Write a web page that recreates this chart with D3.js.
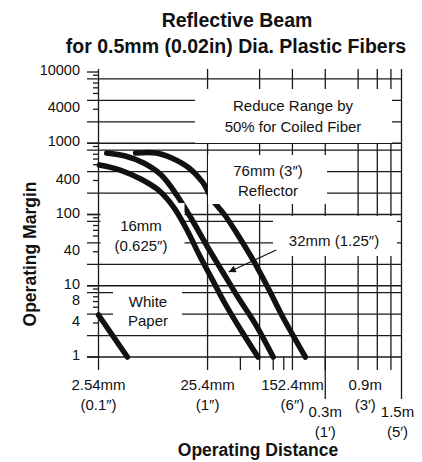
<!DOCTYPE html>
<html><head><meta charset="utf-8">
<script src="https://cdn.jsdelivr.net/npm/d3@7"></script>
<style>
body{margin:0;background:#fff}
text{font-family:"Liberation Sans",Arial,Helvetica,sans-serif;fill:#111}
</style>
</head><body>
<svg id="c" width="422" height="462"></svg>
<script>
// ---------- data (x = operating distance in inches, y = operating margin) ----------
const x16 = [0.102, 0.158, 0.244, 0.353, 0.488, 0.648, 0.840, 1.112, 1.437, 2.02, 2.90];
const y16 = [495, 421, 315, 221, 127, 60.6, 27.0, 12.0, 5.73, 2.39, 1];
const x32 = [0.119, 0.176, 0.260, 0.376, 0.521, 0.722, 1.0, 1.377, 1.896, 2.78, 4.0];
const y32 = [730, 662, 528, 358, 188, 83.7, 35.0, 15.6, 6.95, 2.81, 1];
const x76 = [0.219, 0.338, 0.468, 0.677, 0.897, 1.112, 1.437, 1.896, 2.61, 3.59, 4.95, 7.89];
const y76 = [730, 730, 621, 449, 286, 160, 98.4, 51.6, 23.0, 9.30, 3.53, 1];
const xPaper = [0.1, 0.184];
const yPaper = [3.89, 1];

const yGridValues = [1,2,4,8,10,20,40,80,100,200,400,800,1000,2000,4000,8000];
const yMajorTicks = [1,10,100,1000,10000];
const yMinorTicks = [3,5,6,7,9,30,50,60,70,90,300,500,600,700,900,3000,5000,6000,7000,9000];
const yTickLabels = [1,4,8,10,40,100,400,1000,4000,10000];

const xGridValues = [1,3,6,12,24,36,48];
const xShortTicks = [2,4,5];
const xTickValues = [0.1, 1, 6, 12, 36, 60];
const xTickMetric = ["2.54mm","25.4mm","152.4mm","0.3m","0.9m","1.5m"];
const xTickImperial = ["(0.1\u2033)","(1\u2033)","(6\u2033)","(1\u2032)","(3\u2032)","(5\u2032)"];
const xTickRow = [0,0,0,1,0,1];

const arrowFrom = [4.26, 31.8];
const arrowTo = [1.565, 15.6];

// ---------- scales ----------
const svg = d3.select("#c");
const x = d3.scaleLog().domain([0.1, 60]).range([98.5, 401.5]);
const y = d3.scaleLog().domain([1, 10000]).range([357, 72]);
const LEFT = 87, TOP = 69;
const ink = "#1a1a1a";

// ---------- grid ----------
const g = svg.append("g").attr("stroke", ink).attr("stroke-width", 1.3);
g.selectAll(".hg").data(yGridValues).join("line")
  .attr("x1", LEFT).attr("x2", x(60)).attr("y1", d => y(d)).attr("y2", d => y(d));
g.selectAll(".mj").data(yMajorTicks).join("line")
  .attr("x1", LEFT).attr("x2", x(0.1)).attr("y1", d => y(d)).attr("y2", d => y(d));
g.selectAll(".mn").data(yMinorTicks).join("line")
  .attr("x1", 93).attr("x2", x(0.1)).attr("y1", d => y(d)).attr("y2", d => y(d));
g.selectAll(".vg").data(xGridValues).join("line")
  .attr("x1", d => x(d)).attr("x2", d => x(d)).attr("y1", TOP).attr("y2", y(1) + 13);
g.selectAll(".vs").data(xShortTicks).join("line")
  .attr("x1", d => x(d)).attr("x2", d => x(d)).attr("y1", y(1)).attr("y2", y(1) + 13);
g.append("line").attr("x1", x(0.1)).attr("x2", x(0.1)).attr("y1", TOP).attr("y2", y(1) + 13);
g.append("line").attr("x1", x(60)).attr("x2", x(60)).attr("y1", TOP).attr("y2", y(1) + 42);
g.append("line").attr("x1", x(12)).attr("x2", x(12)).attr("y1", y(1)).attr("y2", y(1) + 42);

// ---------- curves ----------
const line = d3.line().x(d => x(d[0])).y(d => y(d[1])).curve(d3.curveCatmullRom.alpha(0.5));
const zip = (a, b) => a.map((v, i) => [v, b[i]]);
const curveStyle = sel => sel.attr("fill", "none").attr("stroke", "#111")
  .attr("stroke-width", 5.5).attr("stroke-linecap", "round");

svg.append("path").datum(zip(x32, y32)).attr("d", line).call(curveStyle);
svg.append("path").datum(zip(x76, y76)).attr("d", line).call(curveStyle);

// ---------- label boxes (white, hide grid) ----------
const boxes = [
  [195, 89, 197, 54],
  [208, 155, 119, 49],
  [100.5, 203, 84, 57],
  [273, 216, 124, 40],
  [113, 289, 69, 43]
];
svg.append("g").selectAll("rect").data(boxes).join("rect")
  .attr("x", d => d[0]).attr("y", d => d[1]).attr("width", d => d[2]).attr("height", d => d[3])
  .attr("fill", "#fff");

svg.append("path").datum(zip(x16, y16)).attr("d", line).call(curveStyle);
svg.append("path").datum(zip(xPaper, yPaper)).attr("d", line).call(curveStyle);

// ---------- arrow ----------
svg.append("defs").append("marker").attr("id", "ah").attr("viewBox", "0 0 10 10")
  .attr("refX", 10).attr("refY", 5).attr("markerWidth", 9).attr("markerHeight", 7)
  .attr("markerUnits", "userSpaceOnUse").attr("orient", "auto")
  .append("path").attr("d", "M0,0 L10,5 L0,10 Z").attr("fill", "#111");
svg.append("line")
  .attr("x1", x(arrowFrom[0])).attr("y1", y(arrowFrom[1]))
  .attr("x2", x(arrowTo[0])).attr("y2", y(arrowTo[1]))
  .attr("stroke", "#111").attr("stroke-width", 1.1).attr("marker-end", "url(#ah)");

// ---------- annotation text ----------
const ann = svg.append("g").attr("font-size", 15).attr("text-anchor", "middle");
const addText = (tx, ty, s) => ann.append("text").attr("x", tx).attr("y", ty).text(s);
addText(293, 111, "Reduce Range by");
addText(293, 132, "50% for Coiled Fiber");
addText(268, 176, "76mm (3\u2033)");
addText(268, 196, "Reflector");
addText(141, 231, "16mm");
addText(141, 251, "(0.625\u2033)");
addText(334, 246, "32mm (1.25\u2033)");
addText(148, 307, "White");
addText(148, 326, "Paper");

// ---------- tick labels ----------
const isDecade = d => Math.abs(Math.log10(d) - Math.round(Math.log10(d))) < 1e-9;
svg.append("g").attr("font-size", 14.5).attr("text-anchor", "end")
  .selectAll("text").data(yTickLabels).join("text")
  .attr("x", 80).attr("y", d => y(d) + (isDecade(d) ? 3 : 12))
  .text(d => d);

const xt = svg.append("g").attr("font-size", 15).attr("text-anchor", "middle");
xTickValues.forEach((v, i) => {
  const nudge = v === 36 ? -12 : (v === 60 ? -4 : 0);
  const base = xTickRow[i] ? 417 : 390;
  xt.append("text").attr("x", x(v) + nudge).attr("y", base).text(xTickMetric[i]);
  xt.append("text").attr("x", x(v) + nudge).attr("y", base + 20).text(xTickImperial[i]);
});

// ---------- titles ----------
const tt = svg.append("g").attr("font-weight", "bold").attr("text-anchor", "middle");
tt.append("text").attr("x", 237).attr("y", 27).attr("font-size", 19.5).text("Reflective Beam");
tt.append("text").attr("x", 236).attr("y", 53).attr("font-size", 19.5).text("for 0.5mm (0.02in) Dia. Plastic Fibers");
tt.append("text").attr("x", 258).attr("y", 456).attr("font-size", 17.5).text("Operating Distance");
tt.append("text").attr("transform", "translate(36,254) rotate(-90)").attr("font-size", 17.5).text("Operating Margin");
</script>
</body></html>
